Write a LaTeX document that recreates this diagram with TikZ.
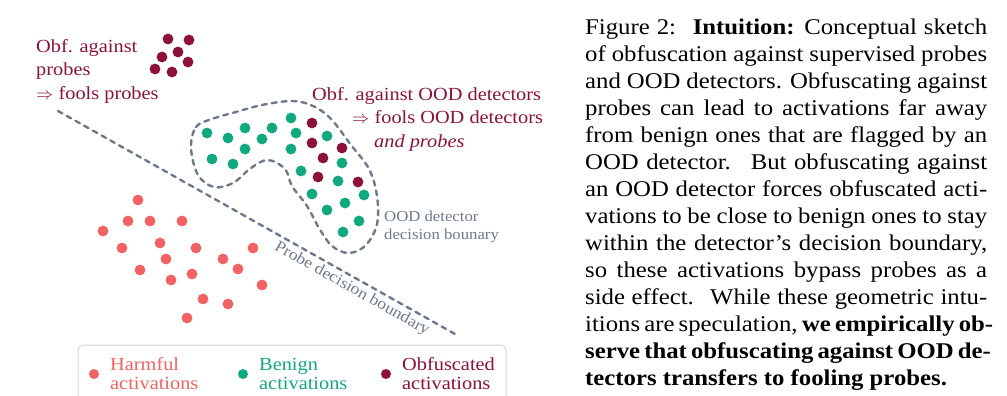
\documentclass[tikz,border=0pt]{standalone}
\usepackage{fontspec}
\setmainfont[FakeStretch=1.1]{Liberation Serif}
\definecolor{harm}{RGB}{242,98,98}
\definecolor{benign}{RGB}{16,168,126}
\definecolor{obf}{RGB}{140,18,56}
\definecolor{bgray}{RGB}{110,122,140}
\definecolor{legline}{RGB}{215,215,215}
\begin{document}
\begin{tikzpicture}[x=1pt,y=-1pt,
  lab/.style={inner sep=0pt,anchor=base west,font=\fontsize{18.5}{22}\selectfont},
  small/.style={inner sep=0pt,anchor=base west,font=\fontsize{15.2}{18}\selectfont,text=bgray},
  bound/.style={draw=bgray,line width=2.4pt,dash pattern=on 5pt off 5pt,line cap=round},
  legbox/.style={draw=legline,line width=1pt,rounded corners=5pt}]
\fill[white] (0,0) rectangle (1007,396);
\clip (0,0) rectangle (1007,396);

% probe decision boundary
\coordinate (pa) at (58,111);
\coordinate (pb) at (455,334);
\draw[bound] (pa) -- (pb);
\node[inner sep=0pt,rotate=-29.4,font=\fontsize{16}{18}\selectfont,text=bgray] (plab) at (352,289) {Probe decision boundary};

% OOD detector boundary
\draw[bound] plot[smooth cycle,tension=0.6] coordinates {
 (191,148) (196,127) (212,119) (236,112) (262,105) (292,101) (313,106) (331,119)
 (351,145) (369,169) (377,196) (377,224) (366,245) (349,253) (332,246) (319,228)
 (307,206) (292,186) (285,169) (268,160) (251,168) (233,183) (214,187) (198,175)};

% harmful activations
\foreach \p in {(138,200),(128,221),(150,221),(182,221),(103,231),(122,248),(160,243),
 (196,248),(166,259),(223,259),(253,248),(238,269),(140,270),(192,274),(171,280),
 (262,285),(203,299),(228,304),(187,318)}
 \fill[harm] \p circle (5.4pt);

% benign activations
\foreach \p in {(207,133),(228,138),(245,128),(262,139),(272,128),(291,118),(296,133),
 (245,149),(291,149),(212,159),(233,164),(327,136),(342,163),(301,171),(338,181),
 (312,194),(364,195),(345,203),(327,210),(359,221),(343,232)}
 \fill[benign] \p circle (5.4pt);

% obfuscated activations
\foreach \p in {(312,123),(312,143),(342,148),(323,158),(318,177),(358,182),
 (168,39),(189,40),(178,52),(162,57),(188,62),(155,69),(172,72)}
 \fill[obf] \p circle (5.4pt);

% labels
\node[lab,text=obf] (l1) at (36,53) {Obf. against};
\node[lab,text=obf] (l2) at (36,76) {probes};
\node[lab,text=obf] (l3) at (36,99.5) {$\Rightarrow$ fools probes};
\node[lab,text=obf] (r1) at (312,100) {Obf. against OOD detectors};
\node[lab,text=obf] (r2) at (352,124) {$\Rightarrow$ fools OOD detectors};
\node[lab,text=obf] (r3) at (374,147) {\itshape and probes};
\node[small] (o1) at (384,221) {OOD detector};
\node[small] (o2) at (384,239) {decision bounary};

% legend
\draw[legbox] (78,345) rectangle (506,430);
\fill[harm] (94,374) circle (5pt);
\fill[benign] (243,374) circle (5pt);
\fill[obf] (386,374) circle (5pt);
\node[lab,text=harm] (h1) at (110,370) {Harmful};
\node[lab,text=harm] (h2) at (110,389) {activations};
\node[lab,text=benign] (b1) at (259,370) {Benign};
\node[lab,text=benign] (b2) at (259,389) {activations};
\node[lab,text=obf] (ob1) at (402,370) {Obfuscated};
\node[lab,text=obf] (ob2) at (402,389) {activations};

% caption
\node[anchor=north west,inner sep=0pt,align=left,font=\fontsize{22.5}{27}\selectfont] (cap) at (585,18.6) {%
\makebox[402pt][s]{Figure 2: \ \textbf{Intuition:} Conceptual sketch}\\
\makebox[402pt][s]{of obfuscation against supervised probes}\\
\makebox[402pt][s]{and OOD detectors. Obfuscating against}\\
\makebox[402pt][s]{probes can lead to activations far away}\\
\makebox[402pt][s]{from benign ones that are flagged by an}\\
\makebox[402pt][s]{OOD detector. \ But obfuscating against}\\
\makebox[402pt][s]{an OOD detector forces obfuscated acti-}\\
\makebox[402pt][s]{vations to be close to benign ones to stay}\\
\makebox[402pt][s]{within the detector’s decision boundary,}\\
\makebox[402pt][s]{so these activations bypass probes as a}\\
\makebox[402pt][s]{side effect. \ While these geometric intu-}\\
\makebox[402pt][s]{itions are speculation, \textbf{we empirically ob-}}\\
\makebox[402pt][s]{\textbf{serve that obfuscating against OOD de-}}\\
\textbf{tectors transfers to fooling probes.}};
\end{tikzpicture}
\end{document}
